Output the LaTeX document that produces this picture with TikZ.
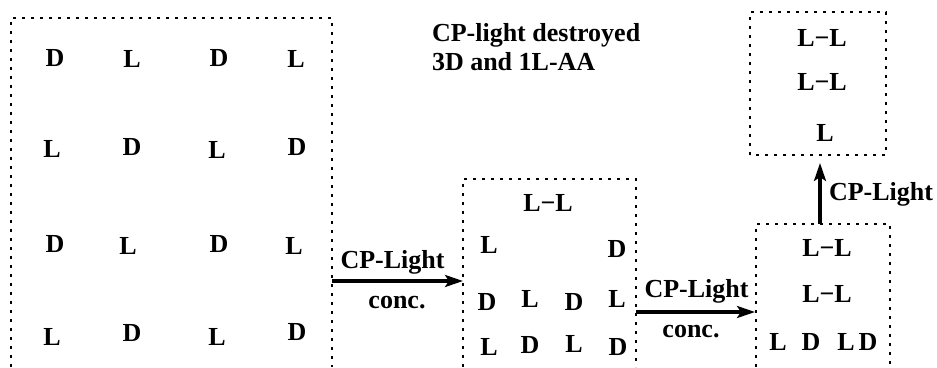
\documentclass[tikz,border=0pt]{standalone}
\usepackage{fontspec}
\setmainfont{Liberation Serif}
\usetikzlibrary{arrows.meta}
\begin{document}
\begin{tikzpicture}[x=1pt,y=-1pt,
  lab/.style={font=\fontsize{26}{29}\selectfont\bfseries, inner sep=0pt, outer sep=0pt},
  boxarea/.style={draw=none, inner sep=0pt, outer sep=0pt},
  dotline/.style={line width=2.2pt, dash pattern=on 3pt off 6pt},
  arr/.style={line width=3.2pt, -{Stealth[length=18pt,width=12pt,inset=4pt]}}]
\useasboundingbox (0,0) rectangle (937,367);
% box areas
\node[boxarea, minimum width=321pt, minimum height=349pt] (box1) at (171.5,192.5) {};
\node[boxarea, minimum width=173pt, minimum height=188pt] (box2) at (549.5,273) {};
\node[boxarea, minimum width=134pt, minimum height=143pt] (box3) at (823,295.5) {};
\node[boxarea, minimum width=136pt, minimum height=143pt] (box4) at (818,83.5) {};
\draw[dotline] (box1.south west) |- (box1.north east) -- (box1.south east);
\draw[dotline] (box2.south west) |- (box2.north east) -- (box2.south east);
\draw[dotline] (box3.south west) |- (box3.north east) -- (box3.south east);
\draw[dotline] (box4.south west) rectangle (box4.north east);
% left box letters
\node[lab] (a11) at (55,58) {D};
\node[lab] (a12) at (132,59) {L};
\node[lab] (a13) at (219,58) {D};
\node[lab] (a14) at (296,59) {L};
\node[lab] (a21) at (52,149) {L};
\node[lab] (a22) at (132,147) {D};
\node[lab] (a23) at (217,150) {L};
\node[lab] (a24) at (297,147) {D};
\node[lab] (a31) at (55,244) {D};
\node[lab] (a32) at (128,246) {L};
\node[lab] (a33) at (219,244) {D};
\node[lab] (a34) at (294,246) {L};
\node[lab] (a41) at (52,337) {L};
\node[lab] (a42) at (132,333) {D};
\node[lab] (a43) at (217,337) {L};
\node[lab] (a44) at (297,332) {D};
% middle box letters
\node[lab] (b0) at (548,202.5) {L−L};
\node[lab] (b11) at (489,245) {L};
\node[lab] (b12) at (617,249) {D};
\node[lab] (b21) at (487,302) {D};
\node[lab] (b22) at (530,299) {L};
\node[lab] (b23) at (574,302) {D};
\node[lab] (b24) at (617,299) {L};
\node[lab] (b31) at (489,347) {L};
\node[lab] (b32) at (530,345) {D};
\node[lab] (b33) at (574,344) {L};
\node[lab] (b34) at (618,347) {D};
% bottom right box letters
\node[lab] (c1) at (827,248) {L−L};
\node[lab] (c2) at (827,294) {L−L};
\node[lab] (c31) at (778,342) {L};
\node[lab] (c32) at (811,342) {D};
\node[lab] (c33) at (846,342) {L};
\node[lab] (c34) at (868,342) {D};
% top right box letters
\node[lab] (d1) at (822,37.5) {L−L};
\node[lab] (d2) at (822,82) {L−L};
\node[lab] (d3) at (825,133) {L};
% title
\node[lab, align=left, anchor=north west] (title) at (432,23) {CP-light destroyed\\3D and 1L-AA};
% arrows
\draw[arr] ([yshift=-88.5pt]box1.east) -- ([yshift=-8pt]box2.west);
\draw[arr, shorten >=1pt] ([yshift=-39pt]box2.east) -- ([yshift=-16.5pt]box3.west);
\draw[arr, shorten >=8pt] ([xshift=-3pt]box3.north) -- ([xshift=2pt]box4.south);
% arrow labels
\node[lab, anchor=base] (l1a) at (392.5,268) {CP-Light};
\node[lab, anchor=base] (l1b) at (397,308) {conc.};
\node[lab, anchor=base] (l2a) at (696.5,297) {CP-Light};
\node[lab, anchor=base] (l2b) at (691,337) {conc.};
\node[lab, anchor=base west] (l3) at (829,200) {CP-Light};
\end{tikzpicture}
\end{document}
